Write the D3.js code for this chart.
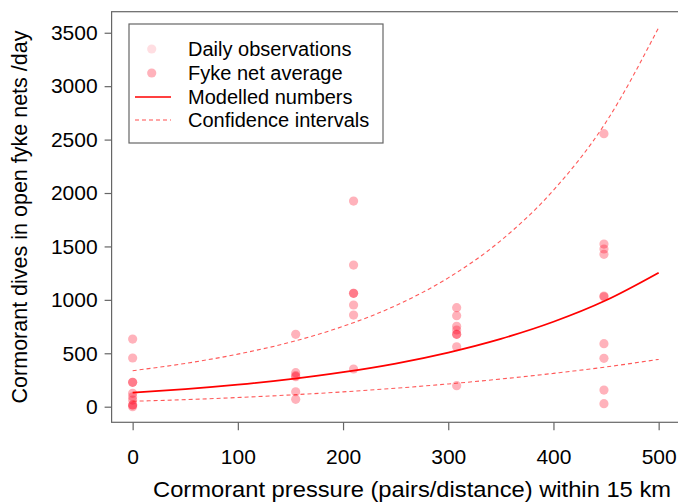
<!DOCTYPE html>
<html>
<head>
<meta charset="utf-8">
<script src="https://cdn.jsdelivr.net/npm/d3@7"></script>
<style>
  body { margin: 0; background: #fff; }
  svg text { font-family: "Liberation Sans", Arial, sans-serif; fill: #000; }
</style>
</head>
<body>
<svg id="chart" width="678" height="503"></svg>
<script>
// fyke net averages (pressure, dives/day)
const obsPressure = [0, 0, 0, 0, 0, 0, 0, 0, 0, 0,
  155, 155, 155, 155, 155, 155,
  210, 210, 210, 210, 210, 210, 210,
  308, 308, 308, 308, 308, 308, 308, 308,
  448, 448, 448, 448, 448, 448, 448, 448, 448, 448];
const obsDives = [633, 456, 228, 228, 125, 92, 62, 16, 16, 0,
  677, 318, 290, 281, 140, 69,
  1925, 1326, 1061, 1061, 952, 858, 353,
  927, 852, 752, 718, 677, 677, 561, 197,
  2555, 1522, 1476, 1426, 1036, 1029, 590, 453, 156, 28];

// modelled curve and confidence band
const modelX = [0, 50, 100, 150, 200, 250, 300, 350, 400, 450, 500];
const modelFit = [131, 164, 206, 258, 323, 404, 507, 635, 795, 996, 1254];
const modelUpper = [337, 405, 492, 604, 752, 946, 1206, 1555, 2026, 2664, 3549];
const modelLower = [51, 66, 86, 110, 139, 173, 213, 259, 312, 372, 443];

const xTicks = [0, 100, 200, 300, 400, 500];
const yTicks = [0, 500, 1000, 1500, 2000, 2500, 3000, 3500];

const legendLabels = ["Daily observations", "Fyke net average", "Modelled numbers", "Confidence intervals"];

const svg = d3.select("#chart");

const x = d3.scaleLinear().domain([-20, 520]).range([111.6, 679.7]);
const y = d3.scaleLinear().domain([-146, 3697]).range([422.3, 11.7]);

const axisCol = "#666";

// Box round the plot
svg.append("rect")
  .attr("x", x(-20)).attr("y", y(3697))
  .attr("width", x(520) - x(-20)).attr("height", y(-146) - y(3697))
  .attr("fill", "none").attr("stroke", axisCol).attr("stroke-width", 1.2);

// Axes
const xAxis = svg.append("g")
  .attr("transform", `translate(0,${y(-146)})`)
  .call(d3.axisBottom(x).tickValues(xTicks).tickFormat(d3.format("d")).tickSize(8).tickPadding(19));
const yAxis = svg.append("g")
  .attr("transform", `translate(${x(-20)},0)`)
  .call(d3.axisLeft(y).tickValues(yTicks).tickFormat(d3.format("d")).tickSize(7).tickPadding(7));

[xAxis, yAxis].forEach(g => {
  g.select(".domain").remove();
  g.selectAll(".tick line").attr("stroke", axisCol).attr("stroke-width", 1.2);
  g.selectAll(".tick text")
    .style("font-family", "Liberation Sans, Arial, sans-serif")
    .style("font-size", "21px").attr("fill", "#000");
});

// Data points
svg.append("g").selectAll("circle")
  .data(obsPressure.map((p, i) => [p, obsDives[i]]))
  .join("circle")
  .attr("cx", d => x(d[0]))
  .attr("cy", d => y(d[1]))
  .attr("r", 4.6)
  .attr("fill", "rgb(255,0,30)")
  .attr("fill-opacity", 0.3);

// Lines
const line = vals => d3.line()
  .x((d, i) => x(modelX[i]))
  .y(d => y(d))
  .curve(d3.curveMonotoneX)(vals);

[modelUpper, modelLower].forEach(vals => {
  svg.append("path")
    .attr("d", line(vals))
    .attr("fill", "none")
    .attr("stroke", "#ff2020")
    .attr("stroke-opacity", 0.75)
    .attr("stroke-width", 1.1)
    .attr("stroke-dasharray", "4,3");
});

svg.append("path")
  .attr("d", line(modelFit))
  .attr("fill", "none")
  .attr("stroke", "#ff0000")
  .attr("stroke-width", 1.8);

// Legend
const legend = svg.append("g");
legend.append("rect")
  .attr("x", 129).attr("y", 24).attr("width", 254).attr("height", 119)
  .attr("fill", "#fff").attr("stroke", axisCol).attr("stroke-width", 1.2);

const rowY = [49, 73, 97, 120];
legendLabels.forEach((lab, i) => {
  legend.append("text")
    .attr("x", 188).attr("y", rowY[i])
    .attr("dy", "0.35em")
    .style("font-size", "20px")
    .text(lab);
});
legend.append("circle").attr("cx", 151.7).attr("cy", rowY[0]).attr("r", 4.6)
  .attr("fill", "rgb(255,0,30)").attr("fill-opacity", 0.13);
legend.append("circle").attr("cx", 151.7).attr("cy", rowY[1]).attr("r", 4.6)
  .attr("fill", "rgb(255,0,30)").attr("fill-opacity", 0.3);
legend.append("line").attr("x1", 135).attr("x2", 171).attr("y1", rowY[2]).attr("y2", rowY[2])
  .attr("stroke", "#ff0000").attr("stroke-width", 1.5);
legend.append("line").attr("x1", 135).attr("x2", 171).attr("y1", rowY[3]).attr("y2", rowY[3])
  .attr("stroke", "#ff2020").attr("stroke-opacity", 0.8).attr("stroke-width", 1.1)
  .attr("stroke-dasharray", "4,3");

// Axis titles
svg.append("text")
  .attr("x", 412).attr("y", 489)
  .attr("dy", "0.35em")
  .attr("text-anchor", "middle")
  .style("font-size", "22px")
  .attr("textLength", 518)
  .attr("lengthAdjust", "spacingAndGlyphs")
  .text("Cormorant pressure (pairs/distance) within 15 km");

svg.append("text")
  .attr("transform", `translate(19,${(y(-146) + y(3697)) / 2}) rotate(-90)`)
  .attr("dy", "0.35em")
  .attr("text-anchor", "middle")
  .style("font-size", "21.5px")
  .text("Cormorant dives in open fyke nets /day");
</script>
</body>
</html>
